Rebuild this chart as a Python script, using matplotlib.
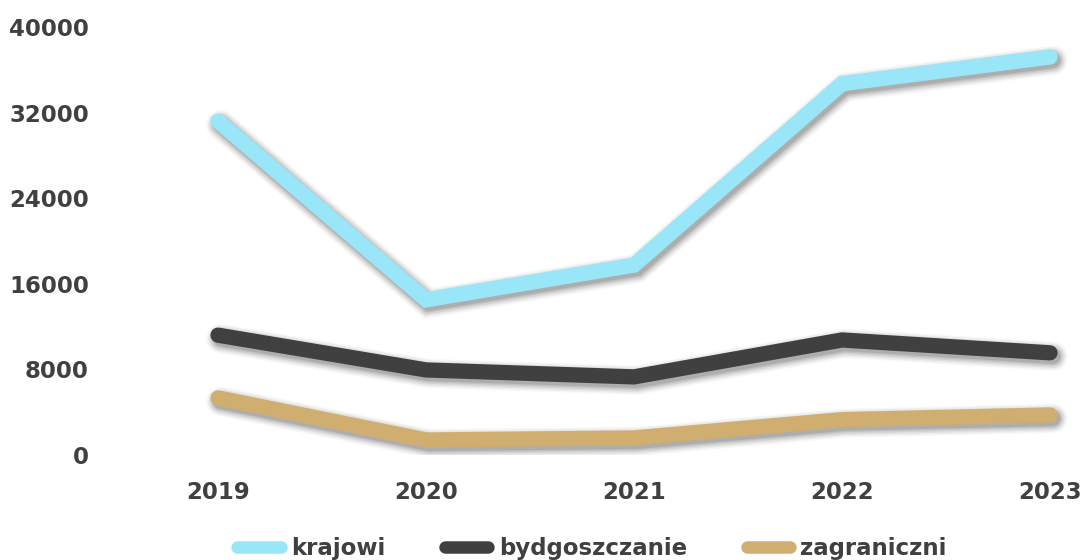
import matplotlib.pyplot as plt
import matplotlib.patheffects as pe

years = [2019, 2020, 2021, 2022, 2023]
krajowi = [31200, 14500, 17750, 34700, 37200]
bydgoszczanie = [11200, 7950, 7300, 10750, 9550]
zagraniczni = [5330, 1400, 1590, 3300, 3740]

series_names = ["krajowi", "bydgoszczanie", "zagraniczni"]
colors = ["#99E6F8", "#404040", "#D0AE6F"]
y_ticks = [0, 8000, 16000, 24000, 32000, 40000]
text_color = "#404040"


def shadow_effects():
    # soft drop shadow made of a few stacked, widening layers
    effects = []
    for extra, alpha in [(10, 0.03), (8, 0.04), (6, 0.05), (4, 0.06), (2, 0.08), (0, 0.10)]:
        effects.append(pe.SimpleLineShadow(offset=(2, -2.5), shadow_color="black",
                                           alpha=alpha, linewidth=11 + extra))
    effects.append(pe.Normal())
    return effects


def main():
    plt.rcParams["font.family"] = ["DejaVu Sans"]
    plt.rcParams["font.weight"] = "bold"
    fs = 16.5

    fig = plt.figure(figsize=(10.86, 5.60), dpi=100)
    ax = fig.add_axes([100 / 1086, 1 - 455 / 560, 986 / 1086, 428 / 560])

    for name, vals, c in zip(series_names, [krajowi, bydgoszczanie, zagraniczni], colors):
        ax.plot(years, vals, color=c, linewidth=11, label=name,
                solid_capstyle="round", solid_joinstyle="miter",
                path_effects=shadow_effects())

    ax.set_xlim(2019 - 118 / 208, 2023 + 36 / 208)
    ax.set_ylim(0, 40000)
    ax.set_xticks(years)
    ax.set_xticklabels([str(y) for y in years])
    ax.set_yticks(y_ticks)
    ax.set_yticklabels([str(v) for v in y_ticks])
    ax.tick_params(length=0, labelsize=fs, labelcolor=text_color)
    ax.tick_params(axis="x", pad=19)
    ax.tick_params(axis="y", pad=8)
    for s in ax.spines.values():
        s.set_visible(False)

    leg = fig.legend(loc="center", bbox_to_anchor=(592 / 1086, 1 - 549 / 560),
                     ncol=3, frameon=False, fontsize=fs, handlelength=1.9,
                     handletextpad=0.45, columnspacing=2.6, borderaxespad=0)
    for t in leg.get_texts():
        t.set_color(text_color)
    for h in leg.get_lines():
        h.set_linewidth(9)
        h.set_solid_capstyle("round")
        h.set_path_effects([])

    plt.savefig("out.png", dpi=100)


if __name__ == "__main__":
    main()
